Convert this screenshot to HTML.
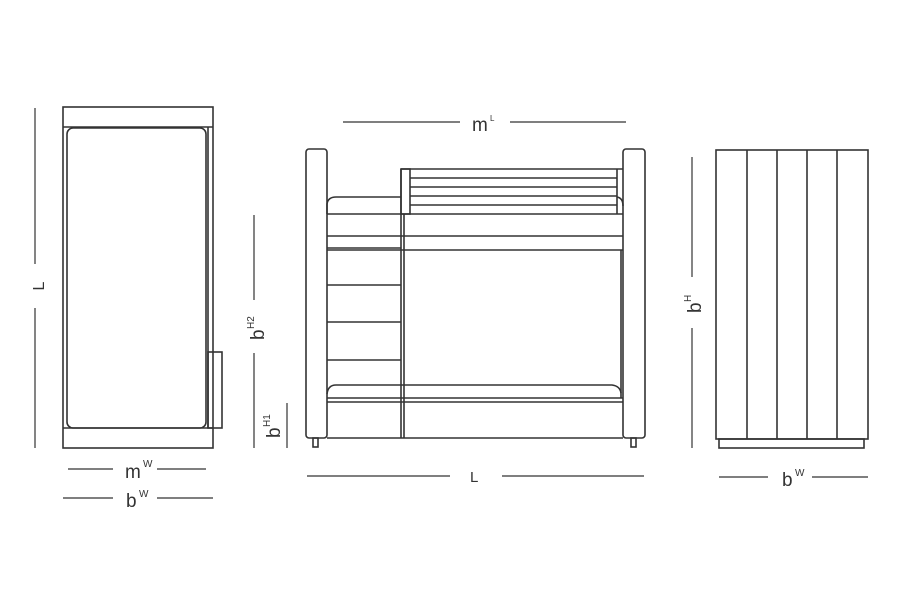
<!DOCTYPE html>
<html><head><meta charset="utf-8"><style>
html,body{margin:0;padding:0;background:#fff;}
svg{display:block;}
text{font-family:"Liberation Sans",sans-serif;fill:#333;}
</style></head><body>
<svg width="900" height="616" viewBox="0 0 900 616" xmlns="http://www.w3.org/2000/svg">
<g fill="none" stroke="#333" stroke-width="1.6">
<!-- Left top view -->
<rect x="63" y="107" width="150" height="341"/>
<line x1="63" y1="127" x2="213" y2="127"/>
<line x1="63" y1="428" x2="213" y2="428"/>
<rect x="67" y="128" width="139" height="300" rx="6"/>
<line x1="208" y1="127" x2="208" y2="428"/>
<rect x="208" y="352" width="14" height="76"/>
</g>
<g stroke="#333" stroke-width="1.2">
<line x1="35" y1="108" x2="35" y2="264"/>
<line x1="35" y1="308" x2="35" y2="448"/>
<line x1="254" y1="215" x2="254" y2="300"/>
<line x1="254" y1="353" x2="254" y2="448"/>
<line x1="287" y1="403" x2="287" y2="448"/>
<line x1="68" y1="469" x2="113" y2="469"/>
<line x1="157" y1="469" x2="206" y2="469"/>
<line x1="63" y1="498" x2="113" y2="498"/>
<line x1="157" y1="498" x2="213" y2="498"/>
<line x1="343" y1="122" x2="460" y2="122"/>
<line x1="510" y1="122" x2="626" y2="122"/>
<line x1="307" y1="476" x2="450" y2="476"/>
<line x1="502" y1="476" x2="644" y2="476"/>
<line x1="692" y1="157" x2="692" y2="277"/>
<line x1="692" y1="328" x2="692" y2="448"/>
<line x1="719" y1="477" x2="768" y2="477"/>
<line x1="812" y1="477" x2="868" y2="477"/>
</g>
<!-- labels -->
<text x="44" y="286" font-size="16" transform="rotate(-90 44 286)" text-anchor="middle">L</text>
<text x="125" y="478" font-size="19">m</text><text x="143" y="467" font-size="10">W</text>
<text x="126" y="507" font-size="19">b</text><text x="139" y="497" font-size="10">W</text>
<g transform="translate(264,340) rotate(-90)"><text x="0" y="0" font-size="19">b</text><text x="11" y="-10" font-size="10">H2</text></g>
<g transform="translate(280,438) rotate(-90)"><text x="0" y="0" font-size="19">b</text><text x="11" y="-10" font-size="10">H1</text></g>
<text x="472" y="131" font-size="19">m</text><text x="490" y="121" font-size="8">L</text>
<text x="470" y="482" font-size="15">L</text>
<g transform="translate(701,313) rotate(-90)"><text x="0" y="0" font-size="19">b</text><text x="11" y="-10" font-size="10">H</text></g>
<text x="782" y="486" font-size="19">b</text><text x="795" y="476" font-size="10">W</text>
<!-- Middle bunk bed -->
<g fill="none" stroke="#333" stroke-width="1.6">
<rect x="306" y="149" width="21" height="289" rx="3"/>
<rect x="623" y="149" width="22" height="289" rx="3"/>
<rect x="313" y="438" width="5" height="9"/>
<rect x="631" y="438" width="5" height="9"/>
<line x1="327" y1="438" x2="623" y2="438"/>
<!-- top rail -->
<line x1="401" y1="169" x2="623" y2="169"/>
<rect x="401" y="169" width="9" height="45"/>
<line x1="410" y1="178" x2="617" y2="178"/>
<line x1="410" y1="187" x2="617" y2="187"/>
<line x1="410" y1="196" x2="617" y2="196"/>
<line x1="410" y1="205" x2="617" y2="205"/>
<line x1="617" y1="169" x2="617" y2="214"/>
<path d="M617 197 Q623 198 623 206"/>
<!-- upper mattress -->
<line x1="401" y1="214" x2="623" y2="214"/>
<line x1="327" y1="236" x2="623" y2="236"/>
<line x1="327" y1="250" x2="623" y2="250"/>
<line x1="621" y1="250" x2="621" y2="398"/>
<!-- ladder -->
<path d="M327 214 L327 204 Q328 197 336 197 L401 197"/>
<line x1="327" y1="214" x2="401" y2="214"/>
<line x1="401" y1="169" x2="401" y2="438"/>
<line x1="404" y1="214" x2="404" y2="438"/>
<line x1="327" y1="248" x2="401" y2="248"/>
<line x1="327" y1="285" x2="401" y2="285"/>
<line x1="327" y1="322" x2="401" y2="322"/>
<line x1="327" y1="360" x2="401" y2="360"/>
<!-- lower mattress -->
<path d="M327 394 Q328 385 336 385 L612 385 Q620 386 621 393"/>
<line x1="327" y1="398" x2="623" y2="398"/>
<line x1="327" y1="402" x2="623" y2="402"/>
<!-- Right side view -->
<rect x="716" y="150" width="152" height="289"/>
<line x1="747" y1="150" x2="747" y2="439"/>
<line x1="777" y1="150" x2="777" y2="439"/>
<line x1="807" y1="150" x2="807" y2="439"/>
<line x1="837" y1="150" x2="837" y2="439"/>
<rect x="719" y="439" width="145" height="9"/>
</g>
</svg>
</body></html>
